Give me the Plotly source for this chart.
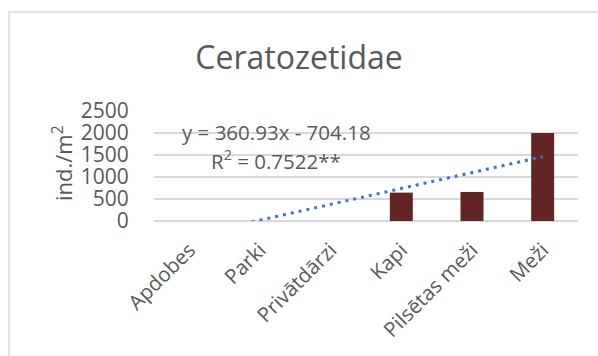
import plotly.graph_objects as go

# Habitat categories and mean Ceratozetidae density (ind./m2)
categories = ["Apdobes", "Parki", "Privātdārzi", "Kapi", "Pilsētas meži", "Meži"]
density = [0, 0, 0, 645, 660, 2000]

# Linear trend line: y = 360.93x - 704.18
slope = 360.93
intercept = -704.18
r_squared = "0.7522**"

x_pos = list(range(1, len(categories) + 1))
trend_y = [slope * x + intercept for x in x_pos]

W, H = 598, 356
L, R, T, B = 154, 20, 111, 135
plot_w = W - L - R
plot_h = H - T - B

grey_text = "#595959"
font_family = "Open Sans, DejaVu Sans, sans-serif"

fig = go.Figure()
fig.add_trace(go.Bar(
    x=x_pos, y=density,
    marker=dict(color="#632523", line=dict(width=0)),
    showlegend=False,
))
fig.add_trace(go.Scatter(
    x=x_pos, y=trend_y, mode="lines",
    line=dict(color="#4472C4", width=3, dash="3px,5px"),
    showlegend=False,
))

def px_x(px):
    return (px - L) / plot_w

def px_y(py):
    return (H - B - py) / plot_h

fig.update_layout(
    width=W, height=H,
    margin=dict(l=L, r=R, t=T, b=B),
    paper_bgcolor="white", plot_bgcolor="white",
    bargap=0.675,
    font=dict(family=font_family, color=grey_text),
    title=dict(
        text="Ceratozetidae",
        x=0.5, xref="container", xanchor="center",
        y=1 - 58 / H, yref="container", yanchor="middle",
        font=dict(size=32, color=grey_text, family=font_family),
    ),
    xaxis=dict(
        range=[0.5, 6.5],
        tickmode="array", tickvals=x_pos, ticktext=categories,
        tickangle=-45,
        tickfont=dict(size=20.5, color=grey_text),
        showgrid=False, zeroline=False, showline=False,
        ticks="outside", ticklen=8, tickcolor="rgba(0,0,0,0)",
        fixedrange=True,
    ),
    yaxis=dict(
        range=[0, 2500], dtick=500,
        tickfont=dict(size=21, color=grey_text),
        showgrid=True, gridcolor="#d9d9d9", gridwidth=1.5,
        zeroline=True, zerolinecolor="#d9d9d9", zerolinewidth=1.5,
        showline=False,
        ticks="outside", ticklen=20, tickcolor="rgba(0,0,0,0)",
        fixedrange=True,
    ),
    shapes=[dict(
        type="rect", xref="paper", yref="paper",
        x0=px_x(9), x1=px_x(W + 20), y0=px_y(H + 20), y1=px_y(12),
        line=dict(color="#d9d9d9", width=1.5), fillcolor="rgba(0,0,0,0)",
        layer="below",
    )],
    annotations=[
        dict(
            text="ind./m<sup>2</sup>", textangle=-90,
            xref="paper", yref="paper", x=px_x(62), y=px_y(163),
            xanchor="center", yanchor="middle", showarrow=False,
            font=dict(size=22, color=grey_text),
        ),
        dict(
            text=f"y = {slope}x - {abs(intercept)}",
            xref="paper", yref="paper", x=px_x(276), y=px_y(132),
            xanchor="center", yanchor="middle", showarrow=False,
            font=dict(size=20.5, color=grey_text),
        ),
        dict(
            text=f"R<sup>2</sup> = {r_squared}",
            xref="paper", yref="paper", x=px_x(276), y=px_y(160),
            xanchor="center", yanchor="middle", showarrow=False,
            font=dict(size=20.5, color=grey_text),
        ),
    ],
)

fig.write_html("out.html")
